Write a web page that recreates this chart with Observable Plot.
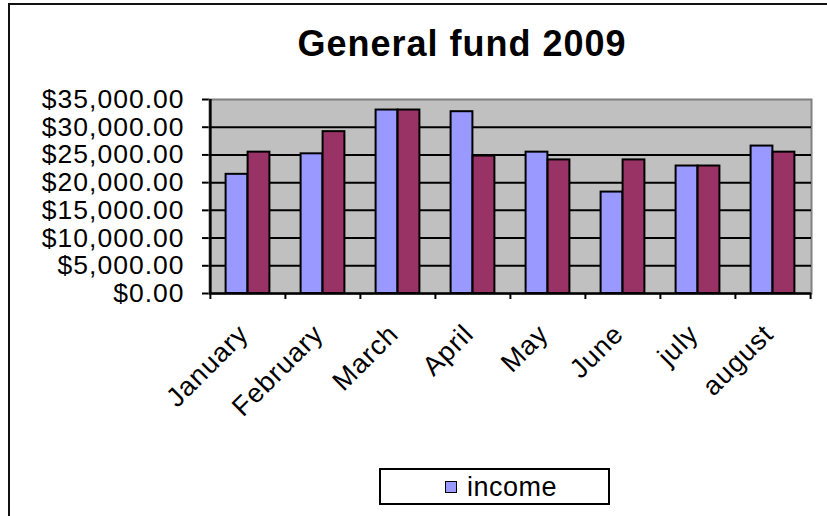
<!DOCTYPE html>
<html>
<head>
<meta charset="utf-8">
<script src="https://cdn.jsdelivr.net/npm/d3@7"></script>
<script src="https://cdn.jsdelivr.net/npm/@observablehq/plot@0.6"></script>
<style>
  html, body { margin: 0; padding: 0; background: #fff; }
  #wrap { position: relative; width: 827px; height: 516px; overflow: hidden; background: #fff;
          font-family: Arial, "Liberation Sans", sans-serif; }
  #outer { position: absolute; left: 8px; top: 3px; width: 900px; height: 600px;
           border-left: 2px solid #111; border-top: 2px solid #111; box-sizing: border-box; }
  #title { position: absolute; left: 0; width: 924px; top: 22px; text-align: center;
           font-weight: bold; font-size: 36px; letter-spacing: 1px; color: #000; line-height: 44px; }
  #chart { position: absolute; left: 0; top: 0; }
  #chart svg text { letter-spacing: 1px; }
  #chart svg g[aria-label="y-axis"] line, #chart svg g[aria-label="y-axis tick"] path { stroke-width: 2px; }
  #legend { position: absolute; left: 379px; top: 468px; width: 231px; height: 37px;
            border: 2px solid #000; box-sizing: border-box; background: #fff; }
  #legend .sw { position: absolute; left: 64px; top: 11px; width: 12px; height: 12px;
                background: #9999ff; border: 1.5px solid #000; box-sizing: border-box; }
  #legend .lb { position: absolute; left: 86px; top: 2px; font-size: 27px; line-height: 30px;
                letter-spacing: 0.5px; color: #000; }
</style>
</head>
<body>
<div id="wrap">
  <div id="outer"></div>
  <div id="title">General fund 2009</div>
  <div id="chart"></div>
  <div id="legend"><div class="sw"></div><div class="lb">income</div></div>
</div>
<script>
const months = ["January", "February", "March", "April", "May", "June", "july", "august"];
const income = [21500, 25200, 33100, 32800, 25500, 18300, 23000, 26600];
const expenses = [25500, 29200, 33100, 24800, 24100, 24100, 23000, 25500];
const yTicks = [0, 5000, 10000, 15000, 20000, 25000, 30000, 35000];
const gridTicks = [5000, 10000, 15000, 20000, 25000, 30000];

const data = months.map((m, i) => ({month: m, income: income[i], expenses: expenses[i]}));
const half = 37.6; // half of category band width in px
const outerInset = 15.6;

const chart = Plot.plot({
  width: 827,
  height: 516,
  marginLeft: 209,
  marginRight: 16,
  marginTop: 99,
  marginBottom: 223,
  style: {fontSize: "26.5px", fontFamily: "Arial, 'Liberation Sans', sans-serif", color: "#000", background: "transparent"},
  x: {domain: months, padding: 0, axis: null},
  y: {domain: [0, 35000], ticks: yTicks, tickFormat: d3.format("$,.2f"), tickSize: 7, tickPadding: 18, label: null},
  marks: [
    Plot.frame({fill: "#c0c0c0", stroke: "#808080", strokeWidth: 2}),
    Plot.ruleY(gridTicks, {stroke: "#000", strokeWidth: 2}),
    Plot.barY(data, {x: "month", y: "income", fill: "#9999ff", stroke: "#000", strokeWidth: 2,
                     insetLeft: outerInset, insetRight: half}),
    Plot.barY(data, {x: "month", y: "expenses", fill: "#993366", stroke: "#000", strokeWidth: 2,
                     insetLeft: half, insetRight: outerInset}),
    Plot.ruleY([0], {stroke: "#000", strokeWidth: 2.5}),
    Plot.ruleX([months[0]], {x: d => d, dx: -half, stroke: "#000", strokeWidth: 2.5}),
    Plot.ruleX(months, {x: d => d, dx: -half, y1: d => 0, y2: d => 0, insetBottom: -6, stroke: "#000", strokeWidth: 2}),
    Plot.ruleX([months[months.length - 1]], {x: d => d, dx: half, y1: d => 0, y2: d => 0, insetBottom: -6, stroke: "#000", strokeWidth: 2}),
    Plot.text(months, {x: d => d, y: d => 0, text: d => d, rotate: -45, textAnchor: "end",
                       dx: -4, dy: 36, fontSize: 27, fill: "#000"})
  ]
});
document.getElementById("chart").appendChild(chart);
</script>
</body>
</html>
